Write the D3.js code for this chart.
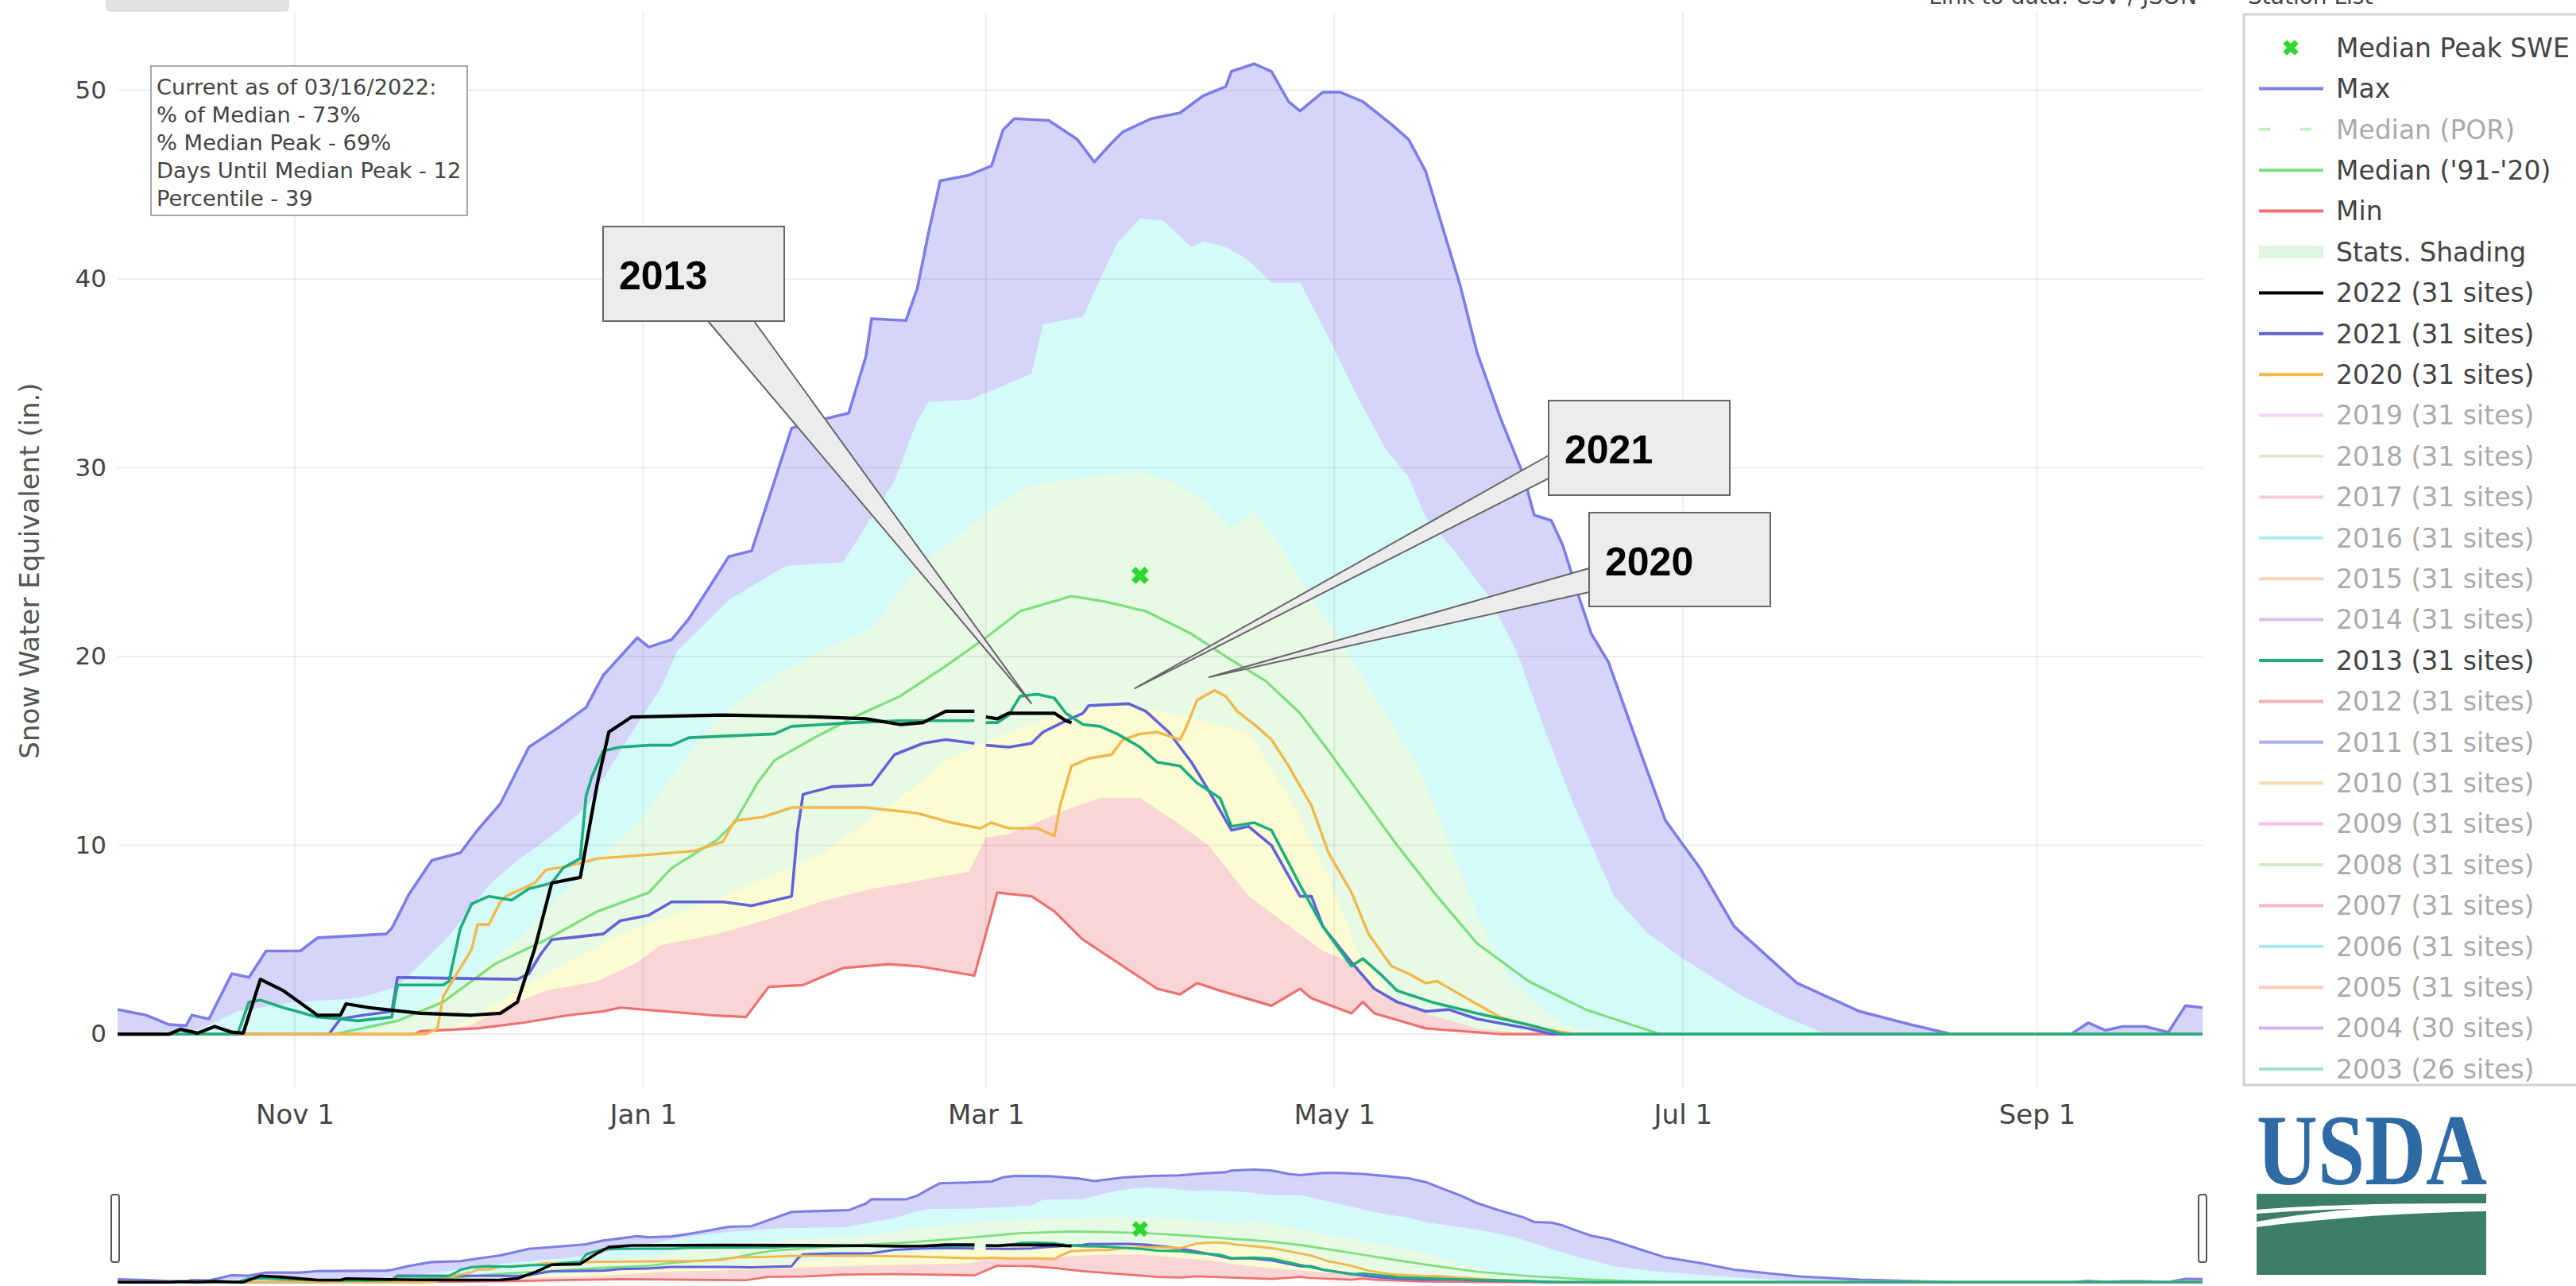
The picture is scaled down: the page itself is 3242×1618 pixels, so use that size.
<!DOCTYPE html>
<html>
<head>
<meta charset="utf-8">
<script src="https://cdn.jsdelivr.net/npm/d3@7"></script>
<style>
  html, body { margin: 0; padding: 0; background: #fff; }
  svg { display: block; font-family: "DejaVu Sans", Verdana, sans-serif; }
</style>
</head>
<body>
<svg id="chart" width="3242" height="1618"></svg>
<script>
// ---- data (water year, "MM-DD", inches SWE) ----
const maxSwe = [["10-01",1.3],["10-06",1.0],["10-10",0.5],["10-13",0.45],["10-14",1.0],["10-17",0.8],["10-21",3.2],["10-24",3.0],["10-27",4.4],["11-02",4.4],["11-05",5.1],["11-17",5.3],["11-18",5.6],["11-21",7.4],["11-25",9.2],["11-30",9.6],["12-03",10.8],["12-07",12.2],["12-12",15.2],["12-17",16.2],["12-22",17.3],["12-25",19.0],["12-28",20.0],["12-31",21.0],["01-02",20.5],["01-06",20.9],["01-09",22.0],["01-12",23.4],["01-16",25.3],["01-20",25.6],["01-24",29.3],["01-27",32.1],["02-02",32.6],["02-06",32.9],["02-09",35.9],["02-10",37.9],["02-16",37.8],["02-18",39.5],["02-20",42.5],["02-22",45.2],["02-27",45.5],["03-02",46.0],["03-04",47.9],["03-06",48.5],["03-12",48.4],["03-17",47.4],["03-20",46.2],["03-23",47.2],["03-25",47.8],["03-30",48.5],["04-04",48.8],["04-08",49.7],["04-12",50.2],["04-13",51.0],["04-17",51.4],["04-20",51.0],["04-23",49.4],["04-25",48.9],["04-29",49.9],["05-02",49.9],["05-06",49.4],["05-11",48.2],["05-14",47.4],["05-17",45.7],["05-20",42.7],["05-23",39.7],["05-26",36.1],["05-30",32.7],["06-03",29.7],["06-05",27.5],["06-08",27.2],["06-10",25.9],["06-13",23.0],["06-15",21.2],["06-18",19.7],["06-24",14.6],["06-28",11.3],["07-04",8.8],["07-10",5.7],["07-21",2.7],["08-01",1.2],["08-10",0.5],["08-17",0],["09-07",0],["09-10",0.6],["09-13",0.2],["09-16",0.4],["09-20",0.4],["09-24",0.1],["09-27",1.5],["09-30",1.4]];
const p90 = [["10-01",0],["10-15",0.2],["10-22",1.2],["11-01",1.7],["11-12",1.9],["11-19",2.5],["11-24",4.0],["11-28",5.2],["12-05",7.9],["12-10",9.2],["12-16",10.5],["12-22",12.0],["12-28",15.0],["01-04",18.3],["01-07",20.3],["01-16",23.0],["01-26",24.8],["02-05",25.0],["02-14",29.3],["02-18",32.5],["02-20",33.5],["02-27",33.6],["03-03",34.2],["03-09",35.0],["03-11",37.6],["03-18",38.0],["03-21",40.0],["03-24",41.9],["03-28",43.2],["04-01",43.1],["04-06",41.7],["04-08",42.0],["04-12",41.7],["04-16",41.0],["04-20",39.8],["04-25",39.8],["04-28",38.1],["05-01",36.3],["05-05",33.8],["05-10",31.0],["05-14",29.5],["05-17",27.4],["05-22",25.6],["05-28",23.2],["06-02",20.2],["06-07",16.0],["06-12",12.1],["06-19",7.3],["06-25",5.3],["07-01",4.0],["07-11",2.1],["07-19",0.9],["07-26",0],["09-30",0]];
const p70 = [["10-01",0],["11-12",0],["11-20",0.8],["12-01",2.8],["12-10",5.0],["12-18",7.5],["12-25",9.5],["01-01",11.5],["01-08",14.5],["01-15",17.0],["01-22",18.6],["02-01",20.3],["02-10",21.5],["02-18",24.7],["03-01",27.6],["03-08",29.0],["03-15",29.4],["03-22",29.6],["03-28",29.8],["04-03",29.2],["04-08",28.3],["04-13",26.8],["04-17",27.7],["04-21",26.2],["04-26",23.6],["05-03",20.4],["05-10",17.0],["05-16",14.0],["05-21",10.2],["05-26",6.3],["06-01",2.8],["06-10",0.5],["06-18",0],["09-30",0]];
const p30 = [["10-01",0],["11-25",0],["12-01",0.7],["12-15",3.2],["12-28",5.3],["01-15",7.3],["02-01",9.5],["02-15",12.5],["02-23",14.5],["03-01",15.5],["03-15",17.1],["03-25",17.5],["04-05",16.8],["04-16",16.0],["04-24",12.1],["04-30",8.3],["05-05",4.4],["05-12",1.5],["05-20",0.2],["05-25",0],["09-30",0]];
const p10 = [["10-01",0],["11-25",0],["12-02",0.5],["12-10",1.7],["12-15",2.3],["12-24",2.8],["12-31",3.8],["01-04",4.7],["01-14",5.3],["01-23",6.1],["02-01",7.0],["02-10",7.7],["02-16",8.0],["02-27",8.6],["03-01",10.4],["03-05",10.6],["03-17",12.1],["03-21",12.5],["03-28",12.5],["04-03",11.3],["04-09",10.0],["04-16",7.3],["04-25",5.3],["04-29",4.4],["05-04",3.8],["05-08",2.3],["05-17",1.1],["05-26",0.3],["06-05",0],["09-30",0]];
const minSwe = [["10-01",0],["11-22",0],["11-23",0.15],["12-03",0.3],["12-11",0.6],["12-19",1.0],["12-25",1.2],["12-28",1.4],["01-13",1.0],["01-19",0.9],["01-23",2.5],["01-29",2.6],["02-05",3.5],["02-13",3.7],["02-18",3.6],["02-26",3.2],["02-28",3.1],["03-03",7.5],["03-09",7.3],["03-13",6.5],["03-18",5.0],["03-23",4.0],["03-28",3.0],["03-31",2.4],["04-04",2.1],["04-07",2.7],["04-11",2.3],["04-20",1.5],["04-25",2.4],["04-27",1.9],["05-04",1.1],["05-06",1.7],["05-08",1.1],["05-17",0.3],["05-30",0],["09-30",0]];
const medianSwe = [["10-01",0],["11-08",0],["11-19",0.7],["11-27",1.7],["12-06",3.7],["12-15",5.0],["12-24",6.5],["01-02",7.5],["01-06",8.8],["01-14",10.3],["01-17",11.2],["01-21",13.3],["01-24",14.5],["01-31",15.7],["02-07",16.8],["02-15",17.9],["02-23",19.5],["03-01",21.0],["03-07",22.4],["03-16",23.2],["03-22",22.9],["03-29",22.4],["04-06",21.2],["04-12",20.0],["04-19",18.7],["04-25",17.0],["04-30",15.0],["05-06",12.5],["05-12",10.0],["05-19",7.3],["05-26",4.8],["06-04",2.8],["06-14",1.3],["06-27",0],["09-30",0]];
const swe2022 = [["10-01",0],["10-10",0],["10-12",0.25],["10-15",0.05],["10-18",0.4],["10-21",0.1],["10-23",0.05],["10-26",2.9],["10-30",2.3],["11-05",1.0],["11-09",1.0],["11-10",1.6],["11-14",1.4],["11-23",1.1],["12-02",1.0],["12-07",1.1],["12-10",1.7],["12-13",4.5],["12-16",8.0],["12-21",8.3],["12-24",13.3],["12-26",16.0],["12-30",16.8],["01-15",16.9],["02-01",16.8],["02-09",16.7],["02-15",16.4],["02-19",16.5],["02-23",17.1],["02-28",17.1],["02-29",null],["03-01",16.8],["03-03",16.7],["03-05",17.0],["03-13",17.0],["03-15",16.6],["03-16",16.5]];
const swe2021 = [["10-01",0],["11-07",0],["11-09",0.8],["11-13",1.0],["11-18",1.2],["11-19",3.0],["12-10",2.9],["12-12",3.2],["12-14",4.2],["12-16",5.0],["12-19",5.1],["12-25",5.3],["12-28",6.0],["01-02",6.3],["01-06",7.0],["01-15",7.0],["01-20",6.8],["01-27",7.3],["01-28",10.7],["01-29",12.7],["02-03",13.1],["02-10",13.2],["02-14",14.8],["02-19",15.4],["02-23",15.6],["02-28",15.4],["02-29",null],["03-01",15.3],["03-05",15.2],["03-09",15.4],["03-11",16.0],["03-15",16.6],["03-18",17.0],["03-19",17.4],["03-26",17.5],["03-29",17.1],["04-02",16.0],["04-06",14.4],["04-09",12.9],["04-13",10.8],["04-16",11.0],["04-20",10.0],["04-25",7.3],["04-27",7.3],["04-29",5.7],["05-04",3.8],["05-08",2.4],["05-12",1.7],["05-17",1.2],["05-21",1.3],["05-26",0.8],["06-04",0.3],["06-08",0],["09-30",0]];
const swe2020 = [["10-01",0],["11-24",0],["11-26",0.3],["11-27",2.0],["12-02",4.5],["12-03",5.8],["12-05",5.8],["12-07",7.0],["12-08",7.3],["12-13",8.0],["12-15",8.7],["12-19",8.9],["12-24",9.3],["01-02",9.5],["01-10",9.7],["01-15",10.2],["01-17",11.3],["01-22",11.5],["01-27",12.0],["02-09",12.0],["02-18",11.7],["02-24",11.2],["02-29",10.9],["03-02",11.2],["03-05",10.9],["03-10",10.9],["03-13",10.5],["03-14",12.1],["03-16",14.2],["03-19",14.6],["03-23",14.8],["03-25",15.6],["03-28",15.9],["03-31",16.0],["04-04",15.6],["04-05",16.2],["04-07",17.7],["04-10",18.2],["04-12",17.9],["04-14",17.1],["04-17",16.4],["04-20",15.6],["04-23",14.2],["04-27",12.1],["04-30",9.6],["05-04",7.5],["05-07",5.3],["05-11",3.6],["05-14",3.2],["05-17",2.7],["05-19",2.8],["05-23",2.1],["05-30",0.9],["06-06",0.3],["06-12",0],["09-30",0]];
const swe2013 = [["10-01",0],["10-22",0],["10-24",1.7],["10-26",1.8],["10-30",1.4],["11-05",0.9],["11-09",0.8],["11-12",0.7],["11-18",0.9],["11-19",2.6],["11-27",2.6],["11-28",2.8],["11-30",5.6],["12-02",6.9],["12-05",7.3],["12-09",7.1],["12-12",7.7],["12-16",8.0],["12-18",8.8],["12-21",9.3],["12-22",12.6],["12-23",13.6],["12-25",15.0],["12-28",15.2],["01-02",15.3],["01-06",15.3],["01-09",15.7],["01-24",15.9],["01-27",16.3],["02-07",16.5],["02-15",16.6],["02-28",16.6],["02-29",null],["03-01",16.5],["03-03",16.5],["03-05",16.9],["03-07",17.9],["03-10",18.0],["03-13",17.8],["03-15",17.0],["03-18",16.4],["03-21",16.3],["03-24",15.9],["03-28",15.2],["03-31",14.4],["04-04",14.2],["04-07",13.3],["04-11",12.5],["04-13",11.0],["04-17",11.2],["04-20",10.8],["04-25",7.9],["04-29",5.7],["05-04",3.6],["05-06",4.0],["05-09",3.2],["05-12",2.3],["05-18",1.7],["05-26",1.1],["06-04",0.5],["06-10",0],["09-30",0]];
const medianPeak = [["03-28",24.3]];

const yTicks = [0, 10, 20, 30, 40, 50];
const xTickDates = ["11-01","01-01","03-01","05-01","07-01","09-01"];

const infoLines = ["Current as of 03/16/2022:", "% of Median - 73%", "% Median Peak - 69%", "Days Until Median Peak - 12", "Percentile - 39"];

const legendYears = ["2022","2021","2020","2019","2018","2017","2016","2015","2014","2013","2012","2011","2010","2009","2008","2007","2006","2005","2004","2003"];
const legendSites = [31,31,31,31,31,31,31,31,31,31,31,31,31,31,31,31,31,31,30,26];
const yearColors = ["#000000","#6262d9","#f2b84b","#ee9aee","#b5d593","#f58aa2","#46dada","#f5a070","#a070e0","#1eae7e","#e85050","#5050d0","#f0b050","#f070e0","#a0d070","#f06080","#40c8e0","#f09060","#9060f0","#30c090"];
const activeYears = ["2022","2021","2020","2013"];

const callouts = [
  {label: "2013", tip: ["03-09", 17.5]},
  {label: "2021", tip: ["03-27", 18.3]},
  {label: "2020", tip: ["04-09", 18.9]}
];

// ---- helpers ----
const parseMD = md => { const [m, d] = md.split("-").map(Number); return new Date(m >= 10 ? 2019 : 2020, m - 1, d); };
const rows = arr => arr.map(([md, v]) => ({date: parseMD(md), v: v}));

const svg = d3.select("#chart");
const x = d3.scaleTime().domain([new Date(2019, 9, 1), new Date(2020, 8, 30)]).range([148, 2772]);
const y = d3.scaleLinear().domain([-2.82, 54.15]).range([1368, 15]);
const ySlider = d3.scaleLinear().domain([-2.82, 54.15]).range([1621, 1464]);

const colors = {
  max: "#7d7de8", median: "#7ddf7d", min: "#ee7070", peak: "#2fd82f",
  fMax: "#d5d5f9", f90: "#d4fafa", f70: "#e7fae4", f30: "#fbfbd4", f10: "#f9d5d5"
};

const bands = [
  {data: maxSwe, fill: colors.fMax},
  {data: p90, fill: colors.f90},
  {data: p70, fill: colors.f70},
  {data: p30, fill: colors.f30},
  {data: p10, fill: colors.f10},
  {data: minSwe, fill: "#ffffff"}
];
// drawn in this order, 2022 ends up on top
const lines = [
  {data: maxSwe, color: colors.max, w: 3.6},
  {data: medianSwe, color: colors.median, w: 3.2},
  {data: minSwe, color: colors.min, w: 3.2},
  {data: swe2021, color: yearColors[1], w: 3.6},
  {data: swe2020, color: yearColors[2], w: 3.4},
  {data: swe2013, color: yearColors[9], w: 3.6},
  {data: swe2022, color: yearColors[0], w: 4.2}
];

svg.append("defs").call(defs => {
  defs.append("clipPath").attr("id", "clipMain").append("rect")
    .attr("x", 148).attr("y", 15).attr("width", 2624).attr("height", 1353);
  defs.append("clipPath").attr("id", "clipSlider").append("rect")
    .attr("x", 148).attr("y", 1447).attr("width", 2624).attr("height", 180);
});

function drawBands(g, ys) {
  const area = d3.area().x(d => x(d.date)).y0(ys(0)).y1(d => ys(d.v));
  bands.forEach(b => g.append("path").attr("d", area(rows(b.data))).attr("fill", b.fill));
}
function drawLines(g, ys, k) {
  const line = d3.line().defined(d => d.v !== null).x(d => x(d.date)).y(d => ys(d.v));
  lines.forEach(s => g.append("path").attr("d", line(rows(s.data)))
    .attr("fill", "none").attr("stroke", s.color).attr("stroke-width", s.w * k)
    .attr("stroke-linejoin", "round"));
  rows(medianPeak).forEach(p => g.append("path")
    .attr("d", d3.symbol(d3.symbolCross, 300 * k)())
    .attr("transform", `translate(${x(p.date)},${ys(p.v)}) rotate(45)`)
    .attr("fill", colors.peak));
}

// ---- main plot ----
const main = svg.append("g").attr("clip-path", "url(#clipMain)");
drawBands(main, y);

// gridlines (faint, over the shading like semi-transparent fills)
const grid = main.append("g").attr("stroke", "rgba(0,0,0,0.065)").attr("stroke-width", 2);
xTickDates.forEach(md => grid.append("line")
  .attr("x1", x(parseMD(md))).attr("x2", x(parseMD(md))).attr("y1", 15).attr("y2", 1368));
yTicks.forEach(v => grid.append("line")
  .attr("x1", 148).attr("x2", 2772).attr("y1", y(v)).attr("y2", y(v)));

drawLines(main, y, 1);

// axes
const xAxis = svg.append("g").attr("transform", "translate(0,1387)")
  .call(d3.axisBottom(x).tickValues(xTickDates.map(parseMD)).tickFormat(d3.timeFormat("%b %-d")).tickSize(0).tickPadding(3));
xAxis.select(".domain").remove();
xAxis.selectAll("text").attr("font-size", 34).attr("fill", "#444").attr("font-family", "DejaVu Sans");

const yAxis = svg.append("g").attr("transform", "translate(137,0)")
  .call(d3.axisLeft(y).tickValues(yTicks).tickSize(0).tickPadding(3));
yAxis.select(".domain").remove();
yAxis.selectAll("text").attr("font-size", 31).attr("fill", "#444").attr("font-family", "DejaVu Sans");

svg.append("text").attr("transform", "translate(49,718) rotate(-90)")
  .attr("text-anchor", "middle").attr("font-size", 34).attr("fill", "#555")
  .text("Snow Water Equivalent (in.)");

// info box
svg.append("rect").attr("x", 190).attr("y", 83).attr("width", 398).attr("height", 188)
  .attr("fill", "#fff").attr("stroke", "#8a8a8a").attr("stroke-width", 1.5);
infoLines.forEach((t, i) => svg.append("text").attr("x", 197).attr("y", 119 + i * 35)
  .attr("font-size", 27.3).attr("fill", "#444").text(t));

// callouts
const boxes = [[759, 285, 228, 119], [1949, 504, 228, 119], [2000, 645, 228, 118]];
const bases = [[[891, 404], [949, 404]], [[1949, 573], [1949, 602]], [[2000, 715], [2000, 745]]];
callouts.forEach((c, i) => {
  const t = rows([c.tip])[0];
  const [b0, b1] = bases[i];
  const tip = [x(t.date), y(t.v)];
  svg.append("path").attr("d", `M${b0[0]},${b0[1]}L${tip[0]},${tip[1]}L${b1[0]},${b1[1]}Z`)
    .attr("fill", "#ececec").attr("stroke", "#666").attr("stroke-width", 2);
  const [bx, by, bw, bh] = boxes[i];
  svg.append("rect").attr("x", bx).attr("y", by).attr("width", bw).attr("height", bh)
    .attr("fill", "#ececec").attr("stroke", "#666").attr("stroke-width", 2);
  svg.append("text").attr("x", bx + 20).attr("y", by + 79)
    .attr("font-family", "Liberation Sans, Arial, sans-serif").attr("font-weight", "bold")
    .attr("font-size", 50).attr("fill", "#000").text(c.label);
});

// ---- range slider ----
const slider = svg.append("g").attr("clip-path", "url(#clipSlider)");
drawBands(slider, ySlider);
drawLines(slider, ySlider, 0.85);
[145, 2772].forEach(cx => svg.append("rect").attr("x", cx - 5).attr("y", 1503).attr("width", 10).attr("height", 85)
  .attr("rx", 3).attr("fill", "#fff").attr("stroke", "#555").attr("stroke-width", 2));

// ---- top strip (partially visible in the screenshot) ----
svg.append("rect").attr("x", 134).attr("y", -10).attr("width", 229).attr("height", 24)
  .attr("rx", 4).attr("fill", "#e2e2e2").attr("stroke", "#d0d0d0");
svg.append("text").attr("x", 2765).attr("y", 5).attr("text-anchor", "end")
  .attr("font-size", 28).attr("fill", "#444").text("Link to data: CSV / JSON");
svg.append("text").attr("x", 2829).attr("y", 5)
  .attr("font-size", 28).attr("fill", "#444").text("Station List");

// ---- legend ----
const legend = svg.append("g");
legend.append("rect").attr("x", 2824).attr("y", 18).attr("width", 440).attr("height", 1347)
  .attr("fill", "#fff").attr("stroke", "#d2d2d2").attr("stroke-width", 3);
const legendItems = [
  {name: "Median Peak SWE", kind: "marker", color: colors.peak, on: true},
  {name: "Max", color: colors.max, on: true},
  {name: "Median (POR)", color: colors.median, dash: true, on: false},
  {name: "Median ('91-'20)", color: colors.median, on: true},
  {name: "Min", color: colors.min, on: true},
  {name: "Stats. Shading", kind: "band", color: "#dff5df", on: true}
].concat(legendYears.map((yr, i) => ({
  name: `${yr} (${legendSites[i]} sites)`, color: yearColors[i], on: activeYears.includes(yr)
})));
legendItems.forEach((it, i) => {
  const cy = 60 + i * 51.4;
  const g = legend.append("g").attr("opacity", it.on ? 1 : 0.45);
  if (it.kind === "marker") {
    g.append("path").attr("d", d3.symbol(d3.symbolCross, 240)())
      .attr("transform", `translate(2883,${cy}) rotate(45)`).attr("fill", it.color);
  } else if (it.kind === "band") {
    g.append("rect").attr("x", 2843).attr("y", cy - 8).attr("width", 81).attr("height", 16).attr("fill", it.color);
  } else {
    g.append("line").attr("x1", 2843).attr("x2", 2924).attr("y1", cy).attr("y2", cy)
      .attr("stroke", it.color).attr("stroke-width", 4)
      .attr("stroke-dasharray", it.dash ? "14,38" : null);
  }
  g.append("text").attr("x", 2940).attr("y", cy).attr("dy", "0.36em")
    .attr("font-size", 33).attr("fill", "#444").text(it.name);
});

// ---- USDA logo ----
const logo = svg.append("g");
logo.append("text").attr("x", 2840).attr("y", 1490).attr("font-family", "Liberation Serif, Times New Roman, serif")
  .attr("font-size", 127).attr("font-weight", "bold").attr("fill", "#2e6aa4")
  .attr("textLength", 290).attr("lengthAdjust", "spacingAndGlyphs")
  .text("USDA");
logo.append("path").attr("fill", "#3d7e69")
  .attr("d", "M2840,1502H3129V1514C3000,1514 2920,1516 2840,1522Z");
logo.append("path").attr("fill", "#3d7e69")
  .attr("d", "M2840,1527C2880,1524 2920,1522 2965,1521C2920,1525 2880,1530 2840,1537Z");
logo.append("path").attr("fill", "#3d7e69")
  .attr("d", "M2840,1544C2930,1532 3030,1526 3129,1524V1604H2840Z");
</script>
</body>
</html>
